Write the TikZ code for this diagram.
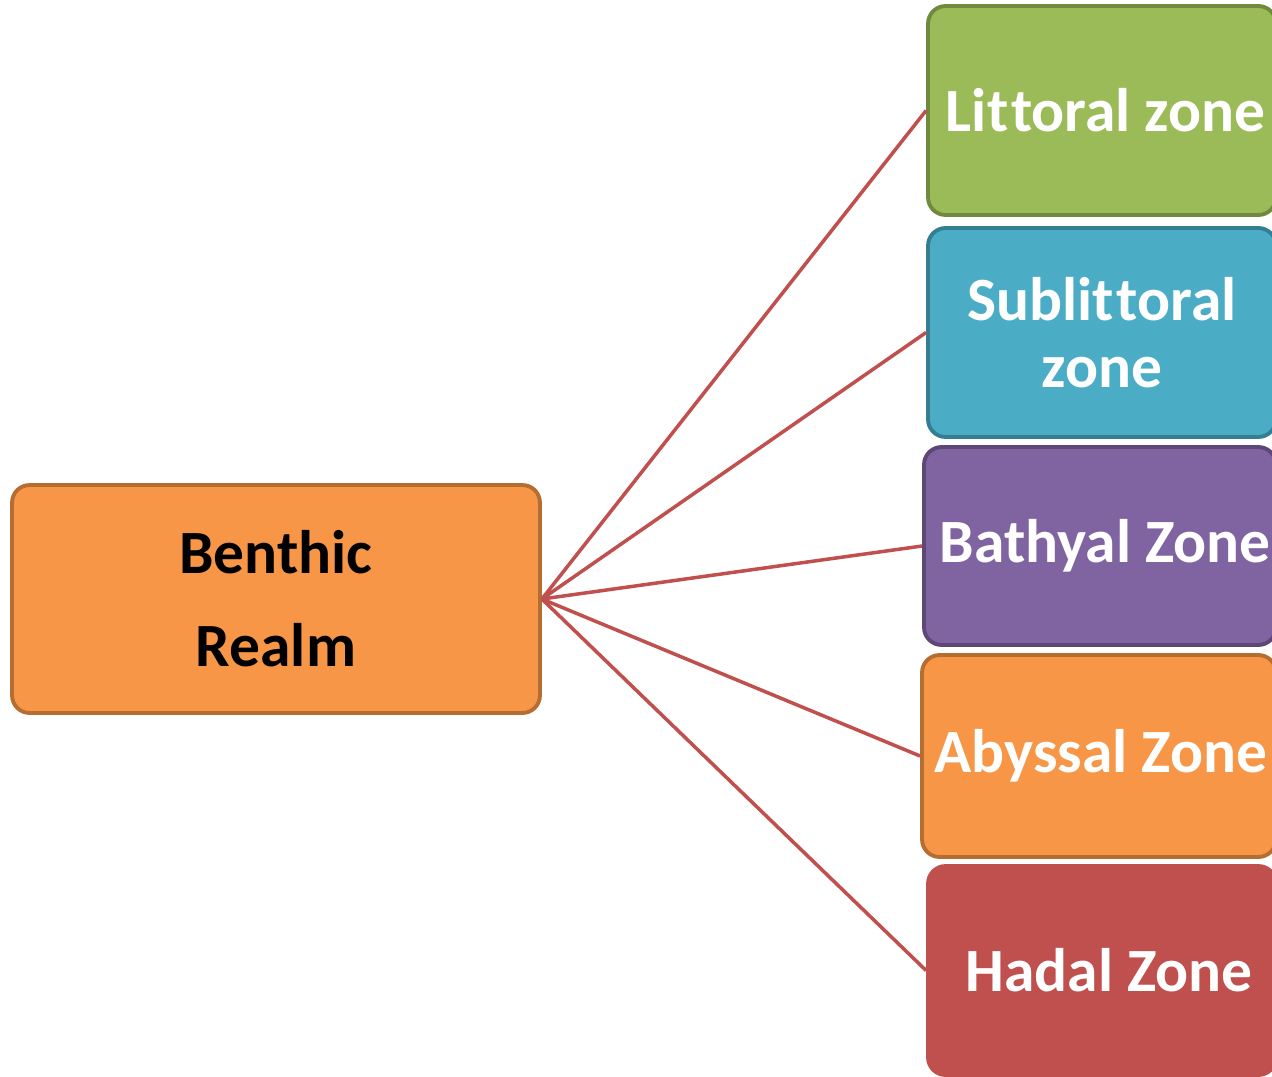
\documentclass[tikz,border=0pt]{standalone}
\usepackage{fontspec}
\setmainfont[Ligatures=NoCommon]{Carlito}
\usepackage{tikz}
\usetikzlibrary{positioning}
\definecolor{realmfill}{HTML}{F79646}
\definecolor{realmline}{HTML}{B66D31}
\definecolor{littfill}{HTML}{9BBB59}
\definecolor{littline}{HTML}{71893F}
\definecolor{sublfill}{HTML}{4BACC6}
\definecolor{sublline}{HTML}{357D91}
\definecolor{bathfill}{HTML}{8064A2}
\definecolor{bathline}{HTML}{5C4776}
\definecolor{hadfill}{HTML}{C0504D}
\definecolor{linkcol}{HTML}{C0504D}
% keep the two t's apart
\newcommand{\sept}{t\kern1.5pt t}

\begin{document}
\begin{tikzpicture}[
  x=0.02cm, y=-0.02cm,
  zonebox/.style={draw, line width=2.2pt, rounded corners=10pt, minimum width=6.96cm, align=center, inner sep=0pt, text=white, font=\fontsize{35}{38}\selectfont\bfseries},
  realmbox/.style={draw=realmline, fill=realmfill, line width=2.2pt, rounded corners=10pt, minimum width=10.56cm, minimum height=4.56cm, align=center, inner sep=0pt, font=\fontsize{35}{53}\selectfont\bfseries},
  link/.style={line width=2pt, linkcol}
]
  \useasboundingbox (0,0) rectangle (1272,1076);

  \node[realmbox] (benthic) at (276,599) {Benthic\\Realm};

  \node[zonebox, draw=littline, fill=littfill, minimum height=4.18cm] (littoral) at (1102,110.5) {\hspace{4pt}Li\sept oral zone};
  \node[zonebox, draw=sublline, fill=sublfill, minimum height=4.18cm] (sublit) at (1102,332.5) {Subli\sept oral\\zone};
  \node[zonebox, draw=bathline, fill=bathfill, minimum width=7.04cm, minimum height=3.96cm] (bathyal) at (1100,546) {\hspace{6pt}Bathyal Zone};
  \node[zonebox, draw=realmline, fill=realmfill, minimum width=7.08cm, minimum height=4.04cm] (abyssal) at (1099,756) {\hspace{2pt}Abyssal Zone};
  \node[zonebox, draw=hadfill, fill=hadfill, minimum height=4.18cm] (hadal) at (1102,970.5) {\hspace{8pt}Hadal Zone};

  \draw[link] (benthic.east) -- (littoral.west);
  \draw[link] (benthic.east) -- (sublit.west);
  \draw[link] (benthic.east) -- (bathyal.west);
  \draw[link] (benthic.east) -- (abyssal.west);
  \draw[link] (benthic.east) -- (hadal.west);
\end{tikzpicture}
\end{document}
